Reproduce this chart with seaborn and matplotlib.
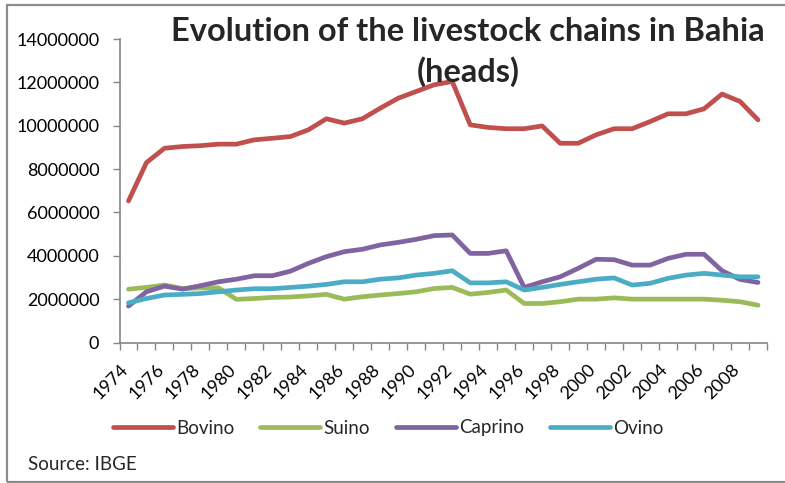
import pandas as pd
import matplotlib
matplotlib.use('Agg')
import matplotlib.pyplot as plt
import matplotlib.transforms as mtransforms
from matplotlib.patches import Rectangle
import seaborn as sns

# Data (heads)
years = list(range(1974, 2010))
bovino = [6530000, 8300000, 8960000, 9040000, 9080000, 9150000, 9150000, 9350000, 9420000,
          9500000, 9810000, 10320000, 10120000, 10320000, 10810000, 11270000, 11580000,
          11890000, 12040000, 10040000, 9920000, 9860000, 9860000, 9990000, 9190000, 9190000,
          9580000, 9860000, 9860000, 10190000, 10550000, 10550000, 10780000, 11460000,
          11120000, 10270000]
suino = [2460000, 2540000, 2650000, 2490000, 2520000, 2520000, 1990000, 2030000, 2080000,
         2100000, 2150000, 2220000, 2000000, 2110000, 2190000, 2260000, 2340000, 2490000,
         2540000, 2230000, 2310000, 2420000, 1800000, 1800000, 1880000, 2000000, 2000000,
         2060000, 2000000, 2000000, 2000000, 2000000, 2000000, 1950000, 1880000, 1720000]
caprino = [1680000, 2340000, 2600000, 2460000, 2620000, 2800000, 2920000, 3080000, 3080000,
           3290000, 3650000, 3960000, 4190000, 4300000, 4500000, 4620000, 4760000, 4930000,
           4960000, 4110000, 4110000, 4230000, 2540000, 2800000, 3030000, 3420000, 3840000,
           3820000, 3570000, 3570000, 3880000, 4070000, 4070000, 3310000, 2910000, 2770000]
ovino = [1830000, 2030000, 2190000, 2220000, 2260000, 2340000, 2420000, 2480000, 2480000,
         2540000, 2600000, 2680000, 2800000, 2800000, 2920000, 2980000, 3110000, 3190000,
         3310000, 2750000, 2750000, 2800000, 2420000, 2540000, 2680000, 2800000, 2920000,
         2980000, 2650000, 2730000, 2960000, 3110000, 3190000, 3110000, 3030000, 3030000]

series = ['Bovino', 'Suino', 'Caprino', 'Ovino']
colors = {'Bovino': '#C0504D', 'Suino': '#9BBB59', 'Caprino': '#8064A2', 'Ovino': '#4BACC6'}

df = pd.DataFrame({'year': years, 'Bovino': bovino, 'Suino': suino,
                   'Caprino': caprino, 'Ovino': ovino})
long_df = df.melt(id_vars='year', var_name='species', value_name='heads')

sns.set_style("white")
plt.rcParams['font.family'] = ['Lato', 'DejaVu Sans']

fig = plt.figure(figsize=(7.85, 4.83), dpi=100)
ax = fig.add_axes([119.5 / 785, 1 - 342.5 / 483, (767 - 119.5) / 785, (342.5 - 39) / 483])

sns.lineplot(data=long_df, x='year', y='heads', hue='species', hue_order=series,
             palette=colors, linewidth=3.4, ax=ax, legend=False)

axis_gray = '#868686'
ax.set_xlim(1973.5, 2009.5)
ax.set_ylim(0, 14000000)
ax.set_xlabel('')
ax.set_ylabel('')

# y axis
ax.set_yticks(range(0, 14000001, 2000000))
ax.set_yticklabels([str(v) for v in range(0, 14000001, 2000000)])
ax.tick_params(axis='y', direction='out', length=5, width=1, color=axis_gray,
               pad=9.5, labelsize=13, labelcolor='black', left=True)

# x axis: tick marks between categories, labels every other year
ax.set_xticks([y + 0.5 for y in range(1973, 2010)], minor=True)
ax.set_xticks(years[::2])
ax.set_xticklabels([str(y) for y in years[::2]], rotation=45, ha='right')
ax.tick_params(axis='x', which='major', length=0, pad=13.5, labelsize=13, labelcolor='black')
ax.tick_params(axis='x', which='minor', direction='out', length=5, width=1,
               color=axis_gray, bottom=True)
offset = mtransforms.ScaledTranslation(3 / 100, 0, fig.dpi_scale_trans)
for lbl in ax.get_xticklabels():
    lbl.set_transform(lbl.get_transform() + offset)

sns.despine(ax=ax, top=True, right=True)
for side in ['left', 'bottom']:
    ax.spines[side].set_color(axis_gray)
    ax.spines[side].set_linewidth(1.2)
ax.grid(False)

# title
fig.text(468 / 785, 1 - 17 / 483, "Evolution of the livestock chains in Bahia\n(heads)",
         ha='center', va='top', fontsize=23.5, fontweight='bold', linespacing=1.38)

# legend
handles = [plt.Line2D([], [], color=colors[s], lw=3.4) for s in series]
fig.legend(handles, series, loc='center', bbox_to_anchor=(388 / 785, 1 - 428 / 483),
           ncol=4, frameon=False, fontsize=13.5, handlelength=3.2, handletextpad=0.15,
           columnspacing=1.4)

# source note
fig.text(28 / 785, 1 - 464 / 483, "Source: IBGE", ha='left', va='center', fontsize=13.5)

# chart area border
fig.patches.append(Rectangle((7 / 785, 1 - 482 / 483), 1.0, (482 - 5) / 483,
                             transform=fig.transFigure, fill=False,
                             edgecolor='#8c8c8c', linewidth=1.6))

fig.savefig('out.png', dpi=100)
plt.close(fig)
